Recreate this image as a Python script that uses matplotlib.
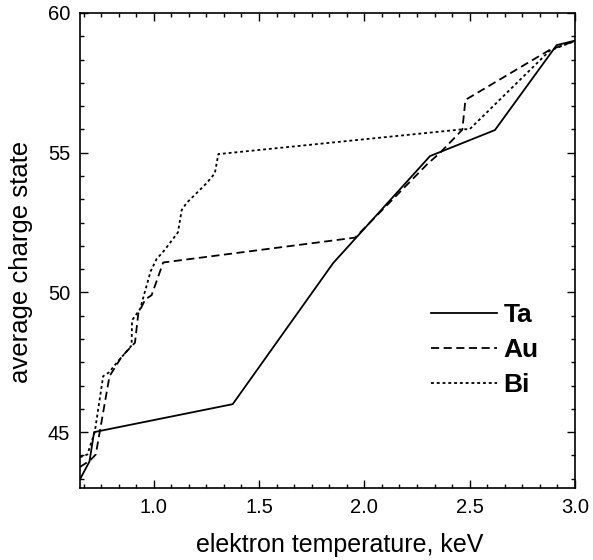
import matplotlib
matplotlib.use("Agg")
import matplotlib.pyplot as plt
from matplotlib.ticker import MultipleLocator

plt.rcParams['font.family'] = ['Liberation Sans', 'DejaVu Sans']

ta_x = [0.65, 0.695, 0.717, 1.375, 1.852, 2.312, 2.62, 2.913, 3.0]
ta_y = [43.31, 43.95, 45.0, 46.0, 51.05, 54.88, 55.81, 58.85, 59.01]

au_x = [0.65, 0.70, 0.725, 0.79, 0.848, 0.911, 0.927, 0.96, 0.99, 1.03, 1.045,
        1.956, 2.30, 2.36, 2.465, 2.48, 2.88, 3.0]
au_y = [43.75, 44.0, 44.2, 47.0, 47.7, 48.2, 49.25, 49.75, 49.9, 50.75, 51.07,
        51.96, 54.6, 55.0, 55.82, 56.89, 58.68, 59.0]

bi_x = [0.65, 0.685, 0.72, 0.76, 0.79, 0.81, 0.895, 0.897, 0.935, 0.985, 1.014,
        1.05, 1.115, 1.133, 1.156, 1.25, 1.29, 1.307, 2.47, 2.50, 2.88, 3.0]
bi_y = [44.1, 44.2, 45.0, 47.0, 47.15, 47.35, 48.1, 49.0, 49.4, 50.75, 51.2,
        51.5, 52.15, 52.95, 53.2, 53.9, 54.26, 54.95, 55.84, 55.84, 58.65, 59.0]

fig = plt.figure(figsize=(5.93, 5.60), dpi=100)
ax = fig.add_axes([0.1349, 0.1286, 0.8347, 0.8482])

ax.plot(ta_x, ta_y, color='black', lw=1.3, label='Ta')
ax.plot(au_x, au_y, color='black', lw=1.3, dashes=(4.5, 2.5), label='Au')
ax.plot(bi_x, bi_y, color='black', lw=1.3, dashes=(1.6, 1.6), label='Bi')

ax.set_xlim(0.65, 3.0)
ax.set_ylim(43, 60)
ax.xaxis.set_major_locator(MultipleLocator(0.5))
ax.xaxis.set_minor_locator(MultipleLocator(0.5 / 6))
ax.yaxis.set_major_locator(MultipleLocator(5))
ax.yaxis.set_minor_locator(MultipleLocator(5 / 6))
ax.tick_params(which='both', direction='in', top=True, right=True,
               labelsize=14.5, width=1)
ax.tick_params(which='major', length=6, pad=7)
ax.tick_params(which='minor', length=3)
for s in ax.spines.values():
    s.set_linewidth(1.2)

ax.set_xlabel('elektron temperature, keV', fontsize=18)
ax.set_ylabel('average charge state', fontsize=18.5)
ax.xaxis.set_label_coords(0.525, -0.095)
ax.yaxis.set_label_coords(-0.095, 0.476)

ax.legend(loc='upper left', bbox_to_anchor=(0.709, 0.389), frameon=False,
          prop={'weight': 'bold', 'size': 19}, handlelength=2.5,
          handletextpad=0.25, labelspacing=0.42, borderpad=0, borderaxespad=0)

fig.savefig('out.png', dpi=100)
